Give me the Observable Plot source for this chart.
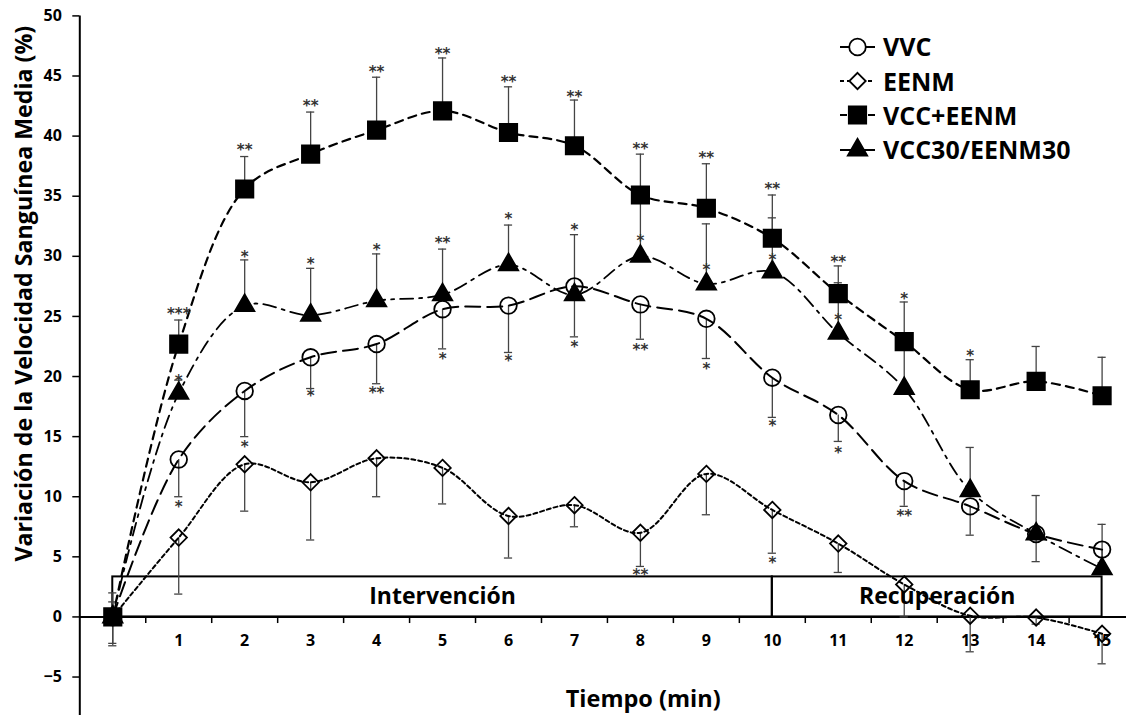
<!DOCTYPE html>
<html><head><meta charset="utf-8">
<script src="https://cdn.jsdelivr.net/npm/d3@7"></script>
<script src="https://cdn.jsdelivr.net/npm/@observablehq/plot@0.6"></script>
<style>
body{margin:0;background:#fff;font-family:"Open Sans",sans-serif;}
#wrap{position:relative;width:1126px;height:715px;}
#wrap > svg{position:absolute;left:0;top:0;}
#wrap svg text{font-weight:700;}
#legend{position:absolute;left:838px;top:29.5px;}
.row{display:flex;align-items:center;height:34.4px;}
.row span{font-weight:700;font-size:25px;margin-left:5px;color:#000;line-height:1;}
</style></head><body><div id="wrap"><div id="legend"></div></div>
<script>
// ---- data ----
const minutes = [0,1,2,3,4,5,6,7,8,9,10,11,12,13,14,15];
const xTickLabels = ["1","2","3","4","5","6","7","8","9","10","11","12","13","14","15"];
const yTicks = [-5,0,5,10,15,20,25,30,35,40,45,50];
const seriesNames = ["VVC","EENM","VCC+EENM","VCC30/EENM30"];

const vvc      = [0,13.1,18.8,21.6,22.7,25.6,25.9,27.5,26.0,24.8,19.9,16.8,11.3,9.2,6.9,5.6];
const vvcErr   = [-2.2,10.0,15.0,19.0,19.4,22.3,22.0,23.3,23.1,21.5,16.6,14.6,9.2,6.8,4.6,4.5];
const vvcStar  = ["","*","*","*","**","*","*","*","**","*","*","*","**","","",""];
const vvcStarAt= [null,9.4,14.4,18.6,18.9,21.7,21.5,22.7,22.4,20.9,16.1,13.9,8.6,null,null,null];

const eenm      = [0,6.6,12.7,11.2,13.2,12.4,8.4,9.3,7.0,11.9,8.9,6.1,2.7,0.1,-0.05,-1.4];
const eenmErr   = [-2.4,1.9,8.8,6.4,10.0,9.4,4.9,7.5,4.2,8.5,5.3,3.7,0.0,-2.9,-0.6,-3.9];
const eenmStar  = ["","","","","","","","","**","","*","","","","",""];
const eenmStarAt= [null,null,null,null,null,null,null,null,3.7,null,4.7,null,null,null,null,null];

const vccEenm      = [0,22.7,35.6,38.5,40.5,42.1,40.3,39.2,35.1,34.0,31.5,26.9,22.9,18.9,19.6,18.4];
const vccEenmErr   = [2.0,24.7,38.3,42.0,44.9,46.5,44.1,43.0,38.5,37.7,35.1,29.2,26.2,21.4,22.5,21.6];
const vccEenmStar  = ["","***","**","**","**","**","**","**","**","**","**","**","*","*","",""];
const vccEenmStarAt= [null,25.4,39.1,42.7,45.6,47.1,44.7,43.5,39.2,38.4,35.8,29.8,26.7,21.9,null,null];

const vcc30      = [0,18.6,25.9,25.1,26.3,26.8,29.3,26.8,30.0,27.7,28.7,23.6,19.0,10.5,6.9,4.0];
const vcc30Err   = [1.25,19.7,29.7,29.0,30.2,30.6,32.6,31.8,34.6,32.7,33.2,27.8,22.5,14.1,10.1,7.7];
const vcc30Star  = ["","*","*","*","*","**","*","*","*","*","*","*","","","",""];
const vcc30StarAt= [null,19.9,30.2,29.6,30.8,31.3,33.3,32.4,31.5,29.1,29.9,24.9,null,null,null,null];

const phases = [
  {label:"Intervención", start:0, end:10},
  {label:"Recuperación", start:10, end:15}
];
const phaseBoxTop = 3.33;
const xHalfTicks = [0.5,1.5,2.5,3.5,4.5,5.5,6.5,7.5,8.5,9.5,10.5,11.5,12.5,13.5,14.5];

// ---- build table ----
const raw = [
  [seriesNames[0], vvc, vvcErr, vvcStar, vvcStarAt],
  [seriesNames[1], eenm, eenmErr, eenmStar, eenmStarAt],
  [seriesNames[2], vccEenm, vccEenmErr, vccEenmStar, vccEenmStarAt],
  [seriesNames[3], vcc30, vcc30Err, vcc30Star, vcc30StarAt]
];
const rows = raw.flatMap(([s, v, e, st, sa]) =>
  minutes.map((m, i) => ({series: s, x: m, y: v[i], err: e[i], star: st[i], starAt: sa[i]})));

const styles = {
  "VVC":          {symbol:"circle",   r:8.3, fill:"none",  dash:"15,7",      sw:2.0},
  "EENM":         {symbol:"diamond2", r:7.4, fill:"none",  dash:"4,3",       sw:2.0},
  "VCC+EENM":     {symbol:"square",   r:9.8, fill:"black", dash:"8,6",       sw:2.2},
  "VCC30/EENM30": {symbol:"triangle", r:7.2, fill:"black", dash:"13,6,3,6",  sw:1.8}
};

const errColor = "#444";
const font = "'Open Sans', sans-serif";

const lineMarks = seriesNames.map(s => Plot.line(rows.filter(d => d.series === s), {
  x: "x", y: "y", curve: "catmull-rom", stroke: "black",
  strokeWidth: styles[s].sw, strokeDasharray: styles[s].dash
}));
const dotMarks = seriesNames.map(s => Plot.dot(rows.filter(d => d.series === s), {
  x: "x", y: "y", symbol: styles[s].symbol, r: styles[s].r,
  fill: styles[s].fill, stroke: "black", strokeWidth: 1.8
}));

const chart = Plot.plot({
  width: 1126, height: 715,
  marginLeft: 79.3, marginRight: 0, marginTop: 15.4, marginBottom: 0,
  x: {domain: [-0.5, 15.37], axis: null},
  y: {domain: [-8.2, 50], axis: null},
  style: {fontFamily: font, background: "white", overflow: "visible", color: "black"},
  marks: [
    // y axis
    Plot.ruleX([-0.5], {y1: -8.2, y2: 50, stroke: "black", strokeWidth: 2}),
    Plot.axisY(yTicks, {anchor: "left", tickSize: 7, tickPadding: 11, fontSize: 16, strokeWidth: 1.5, label: null}),
    // x axis at zero
    Plot.ruleY([0], {stroke: "black", strokeWidth: 2}),
    Plot.ruleX(xHalfTicks, {y1: 0, y2: -0.55, stroke: "black", strokeWidth: 1.5}),
    Plot.text(xTickLabels, {x: minutes.slice(1), y: 0, dy: 24, fontSize: 16, fill: "black"}),
    // phase boxes
    Plot.rect(phases, {x1: "start", x2: "end", y1: 0, y2: phaseBoxTop, stroke: "black", strokeWidth: 2, fill: "none"}),
    // error bars
    Plot.ruleX(rows, {x: "x", y1: "y", y2: "err", stroke: errColor, strokeWidth: 1.3}),
    Plot.ruleY(rows, {y: "err", x1: d => d.x - 0.062, x2: d => d.x + 0.062, stroke: errColor, strokeWidth: 1.3}),
    ...lineMarks,
    ...dotMarks,
    // significance stars
    Plot.text(rows.filter(d => d.star), {x: "x", y: "starAt", text: "star", fontSize: 15, fill: "#333",
      fontFamily: "'DejaVu Sans', sans-serif", fontWeight: "normal", dy: 3}),
    // phase labels
    Plot.text(phases, {x: d => (d.start + d.end) / 2, y: phaseBoxTop / 2, text: "label", fontSize: 23, fill: "black"}),
    // axis titles
    Plot.text(["Tiempo (min)"], {frameAnchor: "bottom", lineAnchor: "middle", textAnchor: "middle", dx: 40, dy: -16, fontSize: 23.5, fill: "black"}),
    Plot.text(["Variación de la Velocidad Sanguínea Media (%)"], {frameAnchor: "left", textAnchor: "middle", lineAnchor: "middle", rotate: -90, dx: -55, dy: -72, fontSize: 23.2, fill: "black"})
  ]
});
document.getElementById("wrap").prepend(chart);

// ---- legend ----
const legend = document.getElementById("legend");
const symType = {circle: d3.symbolCircle, diamond2: d3.symbolDiamond2, square: d3.symbolSquare, triangle: d3.symbolTriangle};
seriesNames.forEach(s => {
  const st = styles[s];
  const row = document.createElement("div");
  row.className = "row";
  const path = d3.symbol().type(symType[st.symbol]).size(st.r * st.r * Math.PI)();
  row.innerHTML = `<svg width="40" height="30" style="overflow:visible">
    <line x1="2" x2="37" y1="15" y2="15" stroke="black" stroke-width="2" stroke-dasharray="${s==='EENM' ? '4,3' : (s==='VCC+EENM' ? '7,21' : '12,11')}"/>
    <path d="${path}" transform="translate(19.5,15)" fill="${st.fill === 'none' ? 'white' : 'black'}" stroke="black" stroke-width="1.8"/>
  </svg><span>${s}</span>`;
  legend.appendChild(row);
});
</script></body></html>
